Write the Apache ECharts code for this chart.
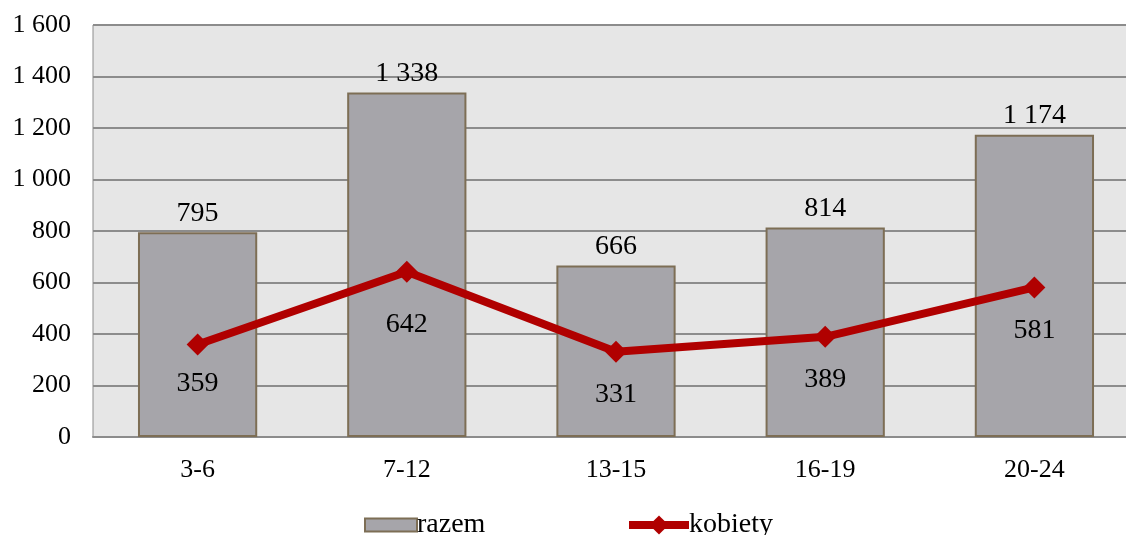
<!DOCTYPE html>
<html><head><meta charset="utf-8">
<script src="https://cdn.jsdelivr.net/npm/echarts@6/dist/echarts.min.js"></script>
<style>html,body{margin:0;padding:0;background:#fff;overflow:hidden;width:1126px;height:535px}#c{width:1139px;height:535px}</style>
</head><body><div id="c"></div>
<script>
const categories = ['3-6', '7-12', '13-15', '16-19', '20-24'];
const razem = [795, 1338, 666, 814, 1174];
const kobiety = [359, 642, 331, 389, 581];
const yTicks = [0, 200, 400, 600, 800, 1000, 1200, 1400, 1600];

function fmt(v) { return String(v).replace(/\B(?=(\d{3})+(?!\d))/g, ' '); }
const font = '"Liberation Serif", "Times New Roman", serif';
const legendText = { fontFamily: font, fontSize: 28, color: '#000', padding: [0, 0, 0, -5] };

const chart = echarts.init(document.getElementById('c'));
chart.setOption({
  animation: false,
  textStyle: { fontFamily: font },
  grid: { left: 93, right: 0, top: 25, bottom: 98, show: true, backgroundColor: '#e6e6e6', borderColor: '#8c8c8c', borderWidth: 1 },
  legend: [
    {
      bottom: -4, left: 364, padding: 0, itemWidth: 52, itemHeight: 13,
      textStyle: legendText,
      data: [{ name: 'razem', icon: 'rect' }]
    },
    {
      bottom: -4, left: 625, padding: 0, itemWidth: 60, itemHeight: 24,
      textStyle: legendText,
      data: [{ name: 'kobiety', lineStyle: { width: 8, color: '#b00000' } }]
    }
  ],
  xAxis: {
    type: 'category', data: categories,
    axisLine: { lineStyle: { color: '#8c8c8c', width: 2 } },
    axisTick: { show: false },
    axisLabel: { fontFamily: font, fontSize: 26, color: '#000', margin: 20 }
  },
  yAxis: {
    type: 'value', min: yTicks[0], max: yTicks[yTicks.length - 1], interval: 200,
    axisLine: { show: false }, axisTick: { show: false },
    splitLine: { lineStyle: { color: '#8c8c8c', width: 2 } },
    axisLabel: { fontFamily: font, fontSize: 26, color: '#000', margin: 22, formatter: fmt }
  },
  series: [
    {
      name: 'razem', type: 'bar', data: razem, barWidth: '57%',
      itemStyle: { color: '#a6a5aa', borderColor: '#7d6e55', borderWidth: 2 },
      label: { show: true, position: 'top', distance: 5, fontFamily: font, fontSize: 28, color: '#000', formatter: p => fmt(p.value) }
    },
    {
      name: 'kobiety', type: 'line', symbol: 'diamond', symbolSize: 22,
      data: kobiety.map((v, i) => ({ value: v, label: { distance: i === 1 ? 28 : (i === 0 ? 14 : 18) } })),
      lineStyle: { color: '#b00000', width: 8 },
      itemStyle: { color: '#b00000' },
      label: { show: true, position: 'bottom', fontFamily: font, fontSize: 28, color: '#000', formatter: p => fmt(p.value) },
      z: 5
    }
  ]
});
</script></body></html>
